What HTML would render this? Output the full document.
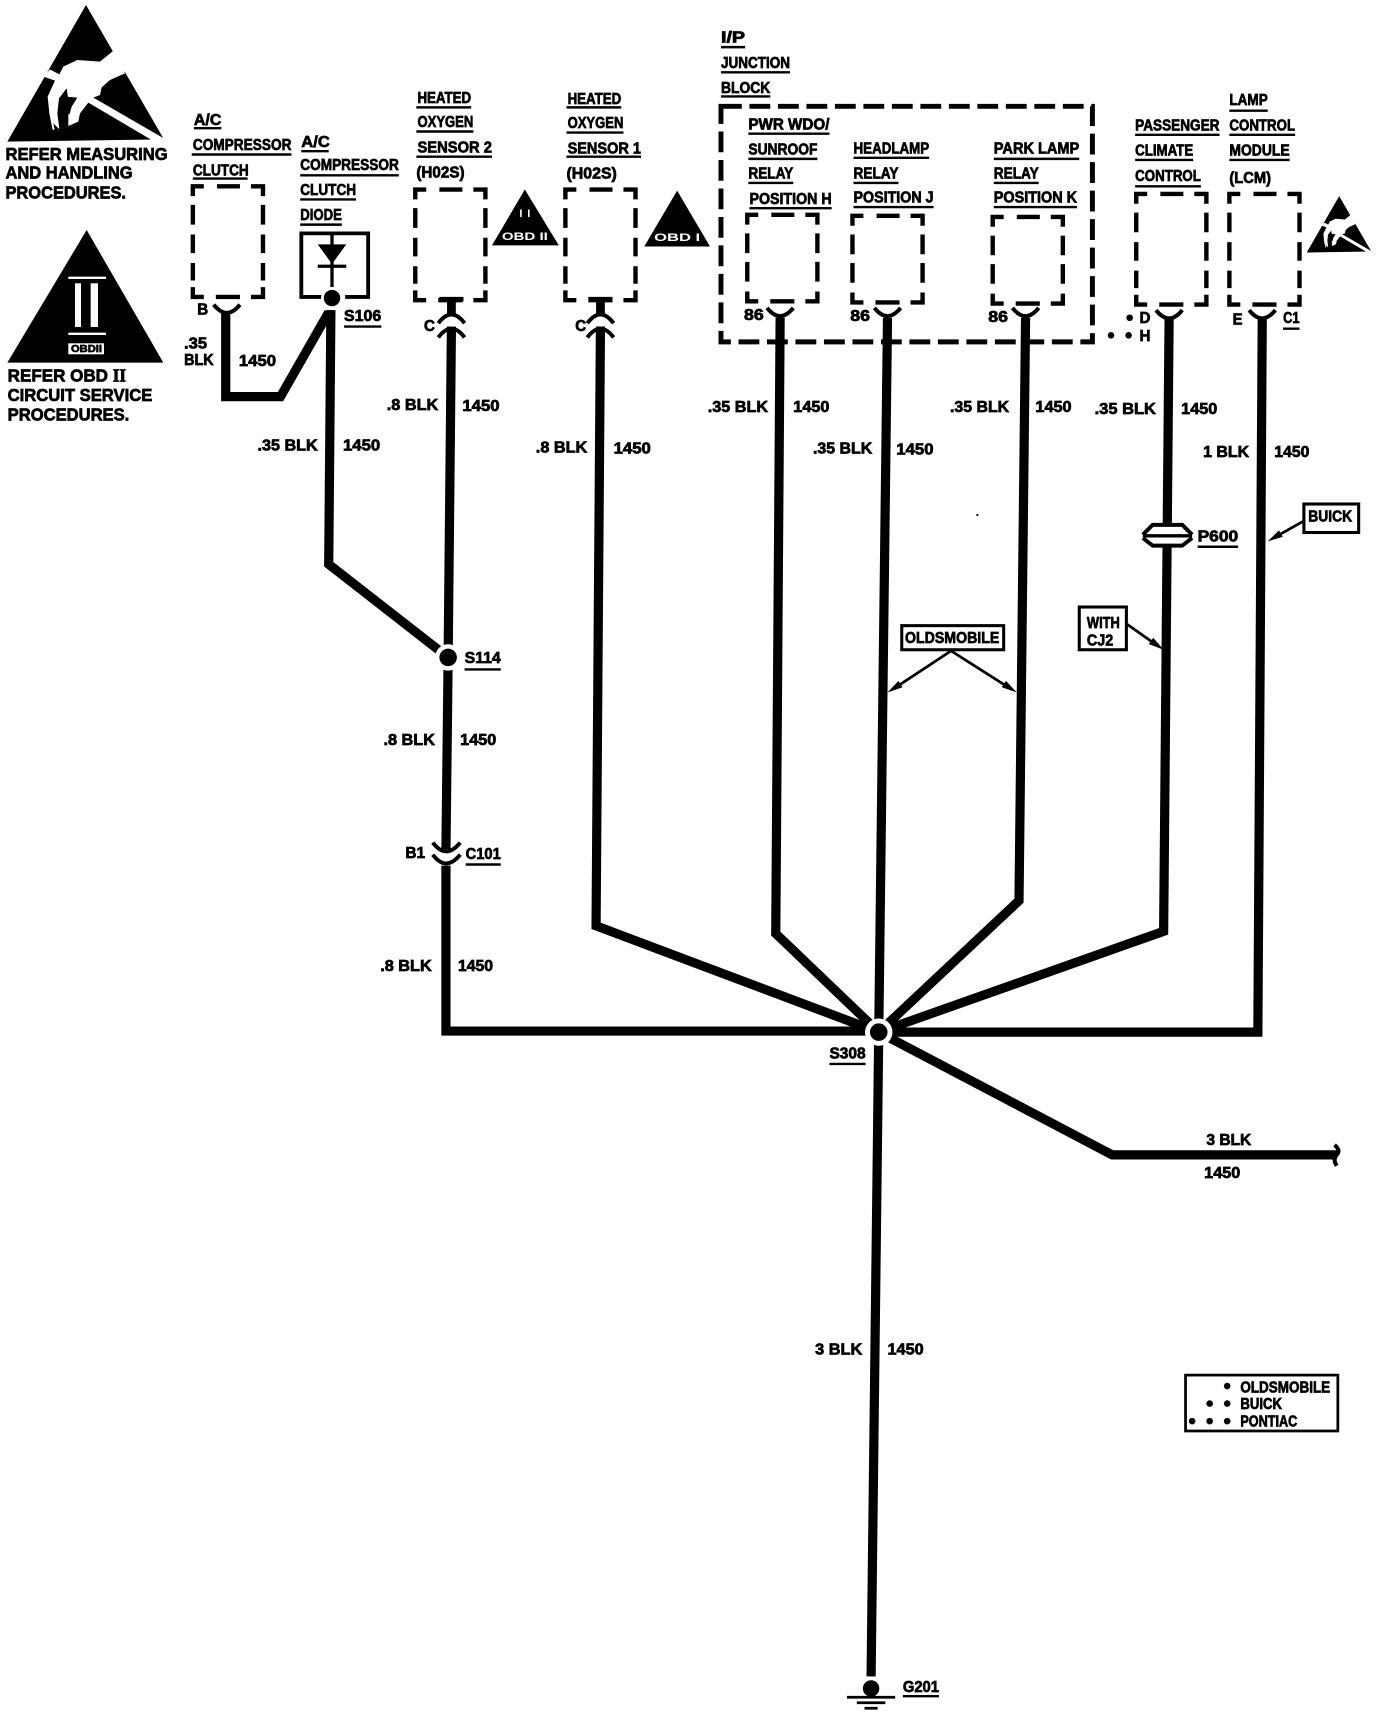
<!DOCTYPE html>
<html><head><meta charset="utf-8"><title>Wiring diagram</title>
<style>
html,body{margin:0;padding:0;background:#fff}
svg{display:block}
text{font-family:"Liberation Sans",sans-serif;font-weight:bold;fill:#000;stroke:#000;stroke-width:.65}
.l{font-size:14.5px}
.r{font-size:16px}
.w{fill:none;stroke:#000;stroke-width:8.4;stroke-linejoin:miter}
.t{fill:none;stroke:#000;stroke-width:3.6}
.d{fill:none;stroke:#000;stroke-width:4}
</style></head><body>
<svg xmlns="http://www.w3.org/2000/svg" width="1376" height="1718" viewBox="0 0 1376 1718">
<defs>
<g id="esd">
<polygon points="258,15 492,418 22,425"/>
<polygon fill="#fff" points="345,148 300,185 232,180 190,200 178,223 150,208 130,230 165,242 143,290 148,340 158,390 178,385 172,340 177,295 200,265 205,300 205,378 235,365 240,340 265,308 455,420 500,420 280,293 300,285 305,262 330,240 375,220 360,160"/>
<polygon points="197,290 232,293 215,320 208,345 195,325"/>
<polygon points="185,290 178,320 190,370 198,375 200,345"/>
<polygon points="160,370 175,385 165,395"/>
</g>
</defs>
<rect width="1376" height="1718" fill="#fff"/>
<use href="#esd" transform="scale(.3333)"/>
<use href="#esd" transform="translate(1303.7,194) scale(.1375)"/>
<g transform="scale(.3333)">
<!-- OBD II triangle -->
<polygon points="260,690 490,1088 22,1088"/>
<rect x="205" y="830" width="113" height="7" fill="#fff"/>
<rect x="225" y="850" width="18" height="131" fill="#fff"/>
<rect x="272" y="850" width="22" height="131" fill="#fff"/>
<rect x="205" y="998" width="113" height="7" fill="#fff"/>
<rect x="205" y="1030" width="107" height="33" fill="#fff"/>
</g>
<text x="71" y="352" style="font-size:10px" textLength="31" lengthAdjust="spacingAndGlyphs">OBDII</text>
<g transform="scale(1.0957)">
<text class="r" x="5" y="146" textLength="148" lengthAdjust="spacingAndGlyphs">REFER MEASURING</text>
<text class="r" x="5" y="163" textLength="116" lengthAdjust="spacingAndGlyphs">AND HANDLING</text>
<text class="r" x="5" y="181" textLength="110" lengthAdjust="spacingAndGlyphs">PROCEDURES.</text>
<text class="r" x="7" y="348" textLength="108" lengthAdjust="spacingAndGlyphs">REFER  OBD <tspan style="font-family:'Liberation Serif',serif">II</tspan></text>
<text class="r" x="7" y="366" textLength="132" lengthAdjust="spacingAndGlyphs">CIRCUIT SERVICE</text>
<text class="r" x="7" y="384" textLength="111" lengthAdjust="spacingAndGlyphs">PROCEDURES.</text>

<!-- dashed component boxes -->
<defs>
<path id="tall" class="d" d="M0 9V0H10M22 0H43M53 0H64V9M0 17V35M0 44V61M0 70V86M0 92V101H10M21 101H43M53 101H64V92M64 17V35M64 44V61M64 70V86"/>
<path id="short" class="d" d="M0 9V0H10M22 0H43M53 0H64V9M0 17V35M0 43V61M0 70V79H10M21 79H43M53 79H64V70M64 17V35M64 43V61"/>
<path id="uarc" class="t" d="M-12 0Q0 15 12 0"/>
<g id="conc"><path d="M-11 0H11" stroke="#000" stroke-width="4"/><path d="M0 0V14" stroke="#000" stroke-width="8"/><path class="t" d="M-12 22Q0 6 12 22M-12 35Q0 19 12 35"/></g>
</defs>
<use href="#tall" x="176" y="170"/>
<use href="#tall" x="379" y="173"/>
<use href="#tall" x="516" y="173"/>
<use href="#short" x="682" y="196"/>
<use href="#short" x="778" y="197"/>
<use href="#short" x="906" y="198"/>
<use href="#tall" x="1037" y="177"/>
<use href="#tall" x="1122" y="177"/>
<rect x="658" y="97" width="339" height="215" fill="none" stroke="#000" stroke-width="4.5" stroke-dasharray="19 7"/>
<!-- diode -->
<path d="M294 271H275V213H336V271H315" fill="none" stroke="#000" stroke-width="3.5"/>
<polygon points="290,223 316,223 303,241"/>
<path d="M290 243H316M303 214V262" stroke="#000" stroke-width="3" fill="none"/>

<!-- wires -->
<path class="w" d="M206 285V362H256L300 285"/>
<path class="w" d="M302 283L300 515L409 600"/>
<path class="w" d="M412 298L409 600L407 775"/>
<path class="w" d="M407 790V941H802"/>
<path class="w" d="M548 298L544 845L802 942"/>
<path class="w" d="M712 290L708 852L802 942"/>
<path class="w" d="M810 290L802 942"/>
<path class="w" d="M936 290L930 822L802 942"/>
<path class="w" d="M1067 290L1062 850L802 942"/>
<path class="w" d="M1152 290L1148 942H802"/>
<path class="w" d="M802 942L1015 1054H1220"/>
<path class="w" d="M802 942L795 1530"/>
<path class="t" d="M1218 1045Q1224 1050 1220 1054Q1216 1058 1220 1064"/>

<!-- terminals -->
<use href="#uarc" x="207" y="278"/>
<use href="#uarc" x="712" y="281"/>
<use href="#uarc" x="810" y="281"/>
<use href="#uarc" x="936" y="281"/>
<use href="#uarc" x="1067" y="283"/>
<use href="#uarc" x="1152" y="283"/>
<use href="#conc" x="412" y="273"/>
<use href="#conc" x="548" y="273"/>
<path class="t" d="M395 769Q407 785 420 769M395 780Q407 796 420 780"/>

<!-- splices -->
<circle cx="303" cy="272" r="10" fill="#fff"/><circle cx="303" cy="272" r="7.5"/>
<circle cx="409" cy="600" r="12" fill="#fff"/><circle cx="409" cy="600" r="8"/>
<circle cx="802" cy="942" r="12.5" fill="#fff"/><circle cx="802" cy="942" r="8"/>
<!-- P600 -->
<rect x="1044" y="479" width="43" height="18" fill="#fff"/>
<path class="t" d="M1043 488L1052 479H1079L1088 488M1043 491L1052 498H1079L1088 491"/>
<path d="M1043 489H1088" stroke="#000" stroke-width="3"/>
<!-- ground -->
<circle cx="795" cy="1541" r="7.5"/>
<path d="M773 1549H817M782 1554H808M789 1559H801" stroke="#000" stroke-width="2.5"/>

<!-- small triangles -->
<polygon points="479,173 510,224 449,224"/>
<polygon points="618,174 648,225 588,225"/>
<text x="474" y="198" style="font-size:10px;fill:#fff;stroke:none" textLength="10">II</text>
<text x="458" y="219" style="font-size:10px;fill:#fff;stroke:none" textLength="42" lengthAdjust="spacingAndGlyphs">OBD II</text>
<text x="597" y="220" style="font-size:10px;fill:#fff;stroke:none" textLength="42" lengthAdjust="spacingAndGlyphs">OBD I</text>

<!-- callouts -->
<rect x="823" y="571" width="93" height="22" fill="#fff" stroke="#000" stroke-width="2.8"/>
<rect x="985" y="554" width="43" height="39" fill="#fff" stroke="#000" stroke-width="2.8"/>
<rect x="1190" y="460" width="50" height="26" fill="#fff" stroke="#000" stroke-width="2.8"/>
<path d="M868 594L815 629M868 594L923 629M1029 570L1056 589M1189 476L1164 490" stroke="#000" stroke-width="2.5" fill="none"/>
<polygon points="810,632 820,621.4 823.7,627.2"/>
<polygon points="928,632 918.1,621.4 914.3,627.2"/>
<polygon points="1062,593 1052.5,582.1 1048.5,587.9"/>
<polygon points="1157,494 1167.3,484 1170.7,490"/>
<rect x="1082" y="1255" width="139" height="51" fill="none" stroke="#000" stroke-width="2.5"/>
<g>
<circle cx="1120" cy="1265" r="3"/><circle cx="1104" cy="1281" r="3"/><circle cx="1120" cy="1281" r="3"/>
<circle cx="1088" cy="1297" r="3"/><circle cx="1104" cy="1297" r="3"/><circle cx="1120" cy="1297" r="3"/>
<circle cx="1031" cy="290" r="3"/><circle cx="1014" cy="306" r="3"/><circle cx="1030" cy="306" r="3"/>
<circle cx="892" cy="470" r="1"/>
</g>

<!-- underlines -->
<path fill="none" stroke="#000" stroke-width="2.2" d="M177 117H202M175 141H266M176 163H226M275 138H300M274 160H364M274 182H325M274 205H312M314 298H348
M380 98H430M380 120H432M380 143H449M517 98H567M517 121H569M517 143H585
M658 43H680M658 66H721M658 88H703M683 122H757M683 145H746M683 167H724M684 190H759
M779 144H848M779 167H820M779 189H852M907 145H985M907 167H948M907 189H983
M1036 123H1113M1036 146H1089M1036 170H1096M1122 101H1157M1122 123H1182M1122 146H1177M1171 300H1186
M424 611H457M425 789H457M1093 499H1130M757 971H790M824 1548H857"/>

<!-- header labels -->
<g class="l">
<text x="177" y="114" textLength="25" lengthAdjust="spacingAndGlyphs">A/C</text>
<text x="176" y="137" textLength="90" lengthAdjust="spacingAndGlyphs">COMPRESSOR</text>
<text x="176" y="160" textLength="51" lengthAdjust="spacingAndGlyphs">CLUTCH</text>
<text x="275" y="134" textLength="26" lengthAdjust="spacingAndGlyphs">A/C</text>
<text x="274" y="155" textLength="90" lengthAdjust="spacingAndGlyphs">COMPRESSOR</text>
<text x="274" y="178" textLength="51" lengthAdjust="spacingAndGlyphs">CLUTCH</text>
<text x="274" y="201" textLength="38" lengthAdjust="spacingAndGlyphs">DIODE</text>
<text x="381" y="94" textLength="49" lengthAdjust="spacingAndGlyphs">HEATED</text>
<text x="381" y="116" textLength="51" lengthAdjust="spacingAndGlyphs">OXYGEN</text>
<text x="381" y="139" textLength="68" lengthAdjust="spacingAndGlyphs">SENSOR  2</text>
<text x="380" y="162" textLength="44" lengthAdjust="spacingAndGlyphs">(H02S)</text>
<text x="518" y="95" textLength="49" lengthAdjust="spacingAndGlyphs">HEATED</text>
<text x="518" y="117" textLength="51" lengthAdjust="spacingAndGlyphs">OXYGEN</text>
<text x="518" y="140" textLength="67" lengthAdjust="spacingAndGlyphs">SENSOR  1</text>
<text x="517" y="163" textLength="46" lengthAdjust="spacingAndGlyphs">(H02S)</text>
<text x="658" y="39" textLength="22" lengthAdjust="spacingAndGlyphs">I/P</text>
<text x="658" y="62" textLength="63" lengthAdjust="spacingAndGlyphs">JUNCTION</text>
<text x="658" y="85" textLength="45" lengthAdjust="spacingAndGlyphs">BLOCK</text>
<text x="683" y="118" textLength="74" lengthAdjust="spacingAndGlyphs">PWR  WDO/</text>
<text x="683" y="141" textLength="63" lengthAdjust="spacingAndGlyphs">SUNROOF</text>
<text x="683" y="163" textLength="41" lengthAdjust="spacingAndGlyphs">RELAY</text>
<text x="684" y="186" textLength="75" lengthAdjust="spacingAndGlyphs">POSITION  H</text>
<text x="779" y="140" textLength="69" lengthAdjust="spacingAndGlyphs">HEADLAMP</text>
<text x="779" y="163" textLength="41" lengthAdjust="spacingAndGlyphs">RELAY</text>
<text x="779" y="185" textLength="73" lengthAdjust="spacingAndGlyphs">POSITION  J</text>
<text x="907" y="140" textLength="78" lengthAdjust="spacingAndGlyphs">PARK  LAMP</text>
<text x="907" y="163" textLength="41" lengthAdjust="spacingAndGlyphs">RELAY</text>
<text x="907" y="185" textLength="76" lengthAdjust="spacingAndGlyphs">POSITION  K</text>
<text x="1036" y="119" textLength="77" lengthAdjust="spacingAndGlyphs">PASSENGER</text>
<text x="1036" y="142" textLength="53" lengthAdjust="spacingAndGlyphs">CLIMATE</text>
<text x="1036" y="165" textLength="60" lengthAdjust="spacingAndGlyphs">CONTROL</text>
<text x="1122" y="96" textLength="35" lengthAdjust="spacingAndGlyphs">LAMP</text>
<text x="1122" y="119" textLength="60" lengthAdjust="spacingAndGlyphs">CONTROL</text>
<text x="1122" y="142" textLength="55" lengthAdjust="spacingAndGlyphs">MODULE</text>
<text x="1122" y="167" textLength="38" lengthAdjust="spacingAndGlyphs">(LCM)</text>

<text x="180" y="287" textLength="10" lengthAdjust="spacingAndGlyphs">B</text>
<text x="387" y="302" textLength="10" lengthAdjust="spacingAndGlyphs">C</text>
<text x="525" y="302" textLength="10" lengthAdjust="spacingAndGlyphs">C</text>
<text x="679" y="292" textLength="18" lengthAdjust="spacingAndGlyphs">86</text>
<text x="776" y="293" textLength="18" lengthAdjust="spacingAndGlyphs">86</text>
<text x="902" y="294" textLength="18" lengthAdjust="spacingAndGlyphs">86</text>
<text x="1040" y="295" textLength="10" lengthAdjust="spacingAndGlyphs">D</text>
<text x="1040" y="311" textLength="10" lengthAdjust="spacingAndGlyphs">H</text>
<text x="1125" y="296" textLength="9" lengthAdjust="spacingAndGlyphs">E</text>
<text x="1171" y="295" textLength="15" lengthAdjust="spacingAndGlyphs">C1</text>
<text x="314" y="293" textLength="34" lengthAdjust="spacingAndGlyphs">S106</text>
<text x="424" y="605" textLength="33" lengthAdjust="spacingAndGlyphs">S114</text>
<text x="370" y="783" textLength="18" lengthAdjust="spacingAndGlyphs">B1</text>
<text x="425" y="784" textLength="32" lengthAdjust="spacingAndGlyphs">C101</text>
<text x="1093" y="494" textLength="37" lengthAdjust="spacingAndGlyphs">P600</text>
<text x="757" y="966" textLength="33" lengthAdjust="spacingAndGlyphs">S308</text>
<text x="824" y="1544" textLength="33" lengthAdjust="spacingAndGlyphs">G201</text>

<!-- wire labels -->
<text x="168" y="318" textLength="21" lengthAdjust="spacingAndGlyphs">.35</text>
<text x="168" y="333" textLength="27" lengthAdjust="spacingAndGlyphs">BLK</text>
<text x="218" y="334" textLength="34" lengthAdjust="spacingAndGlyphs">1450</text>
<text x="235" y="411" textLength="55" lengthAdjust="spacingAndGlyphs">.35  BLK</text>
<text x="313" y="411" textLength="34" lengthAdjust="spacingAndGlyphs">1450</text>
<text x="353" y="374" textLength="47" lengthAdjust="spacingAndGlyphs">.8  BLK</text>
<text x="422" y="375" textLength="34" lengthAdjust="spacingAndGlyphs">1450</text>
<text x="489" y="413" textLength="47" lengthAdjust="spacingAndGlyphs">.8  BLK</text>
<text x="560" y="414" textLength="34" lengthAdjust="spacingAndGlyphs">1450</text>
<text x="646" y="376" textLength="55" lengthAdjust="spacingAndGlyphs">.35  BLK</text>
<text x="724" y="376" textLength="33" lengthAdjust="spacingAndGlyphs">1450</text>
<text x="742" y="414" textLength="54" lengthAdjust="spacingAndGlyphs">.35  BLK</text>
<text x="818" y="415" textLength="34" lengthAdjust="spacingAndGlyphs">1450</text>
<text x="867" y="376" textLength="54" lengthAdjust="spacingAndGlyphs">.35  BLK</text>
<text x="945" y="376" textLength="33" lengthAdjust="spacingAndGlyphs">1450</text>
<text x="999" y="378" textLength="56" lengthAdjust="spacingAndGlyphs">.35  BLK</text>
<text x="1078" y="378" textLength="33" lengthAdjust="spacingAndGlyphs">1450</text>
<text x="1098" y="417" textLength="42" lengthAdjust="spacingAndGlyphs">1  BLK</text>
<text x="1163" y="417" textLength="32" lengthAdjust="spacingAndGlyphs">1450</text>
<text x="350" y="680" textLength="47" lengthAdjust="spacingAndGlyphs">.8  BLK</text>
<text x="420" y="680" textLength="33" lengthAdjust="spacingAndGlyphs">1450</text>
<text x="347" y="886" textLength="47" lengthAdjust="spacingAndGlyphs">.8  BLK</text>
<text x="418" y="886" textLength="32" lengthAdjust="spacingAndGlyphs">1450</text>
<text x="1101" y="1045" textLength="41" lengthAdjust="spacingAndGlyphs">3  BLK</text>
<text x="1099" y="1075" textLength="33" lengthAdjust="spacingAndGlyphs">1450</text>
<text x="744" y="1236" textLength="43" lengthAdjust="spacingAndGlyphs">3  BLK</text>
<text x="810" y="1236" textLength="33" lengthAdjust="spacingAndGlyphs">1450</text>

<!-- callout text -->
<text x="826" y="587" textLength="86" lengthAdjust="spacingAndGlyphs">OLDSMOBILE</text>
<text x="992" y="573" textLength="30" lengthAdjust="spacingAndGlyphs">WITH</text>
<text x="992" y="589" textLength="24" lengthAdjust="spacingAndGlyphs">CJ2</text>
<text x="1194" y="476" textLength="40" lengthAdjust="spacingAndGlyphs">BUICK</text>
<text x="1132" y="1271" textLength="82" lengthAdjust="spacingAndGlyphs">OLDSMOBILE</text>
<text x="1132" y="1286" textLength="38" lengthAdjust="spacingAndGlyphs">BUICK</text>
<text x="1132" y="1302" textLength="52" lengthAdjust="spacingAndGlyphs">PONTIAC</text>
</g>
</g>
</svg>
</body></html>
